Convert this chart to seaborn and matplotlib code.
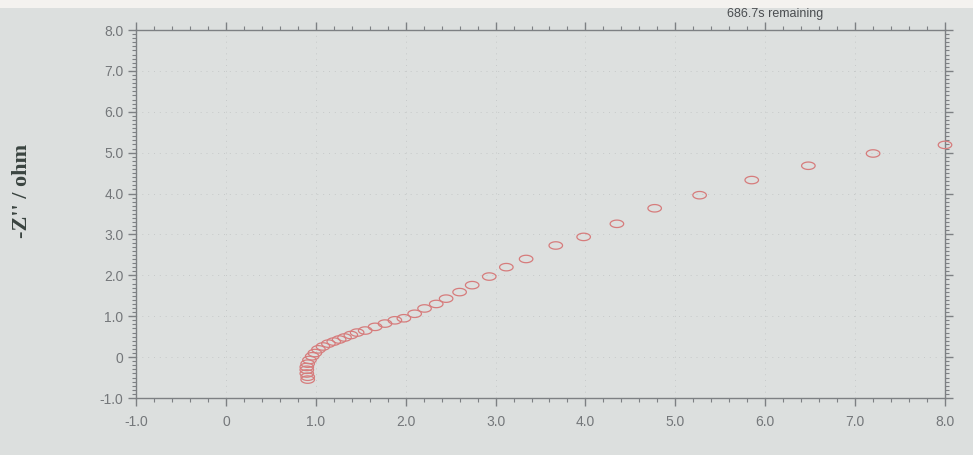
import numpy as np
import pandas as pd
import matplotlib
matplotlib.use("Agg")
import matplotlib.pyplot as plt
from matplotlib.path import Path
from matplotlib.ticker import MultipleLocator, FixedLocator
import seaborn as sns

# Nyquist data: Z' (ohm) and -Z'' (ohm)
z_real = [8.00, 7.20, 6.48, 5.85, 5.27, 4.77, 4.35, 3.98, 3.67, 3.34, 3.12, 2.93,
          2.74, 2.60, 2.45, 2.34, 2.21, 2.10, 1.98, 1.88, 1.77, 1.66, 1.55, 1.46,
          1.39, 1.32, 1.26, 1.20, 1.14, 1.08, 1.03, 0.99, 0.96, 0.93, 0.91, 0.90,
          0.90, 0.90, 0.91, 0.91]
z_imag = [5.19, 4.98, 4.68, 4.33, 3.96, 3.64, 3.26, 2.94, 2.73, 2.40, 2.20, 1.97,
          1.76, 1.59, 1.43, 1.30, 1.19, 1.06, 0.95, 0.90, 0.82, 0.74, 0.65, 0.60,
          0.54, 0.48, 0.43, 0.38, 0.33, 0.26, 0.19, 0.10, 0.02, -0.07, -0.16, -0.24,
          -0.31, -0.40, -0.48, -0.55]

x_ticks = [-1.0, 0.0, 1.0, 2.0, 3.0, 4.0, 5.0, 6.0, 7.0, 8.0]
x_tick_labels = ["-1.0", "0", "1.0", "2.0", "3.0", "4.0", "5.0", "6.0", "7.0", "8.0"]
y_ticks = [-1.0, 0.0, 1.0, 2.0, 3.0, 4.0, 5.0, 6.0, 7.0, 8.0]
y_tick_labels = ["-1.0", "0", "1.0", "2.0", "3.0", "4.0", "5.0", "6.0", "7.0", "8.0"]
y_label = "-Z'' / ohm"
status_text = "686.7s remaining"

df = pd.DataFrame({"zr": z_real, "zi": z_imag})

sns.set_theme(style="white")
plt.rcParams['font.family'] = ['Liberation Sans Narrow', 'Liberation Sans', 'DejaVu Sans']

bg = "#dcdfde"
fig = plt.figure(figsize=(9.73, 4.55), dpi=100, facecolor=bg)
ax = fig.add_axes([136 / 973, 1 - 398 / 455, (945 - 136) / 973, (398 - 30) / 455])
ax.set_facecolor("#dde0df")

# white strip at top of the photo
fig.patches.append(plt.Rectangle((0, 1 - 8 / 455), 1, 8 / 455, transform=fig.transFigure,
                                 facecolor="#f4f2ef", edgecolor="none", zorder=0))

# elliptical open marker
t = np.linspace(0, 2 * np.pi, 40)
ell = Path(np.column_stack([np.cos(t), 0.55 * np.sin(t)]), closed=True)

sns.scatterplot(data=df, x="zr", y="zi", ax=ax, marker=ell, s=95,
                facecolor="none", edgecolor="#d67c7c", linewidth=0.9, legend=False,
                clip_on=False, zorder=3)

ax.set_xlim(-1.0, 8.0)
ax.set_ylim(-1.0, 8.0)
ax.xaxis.set_major_locator(FixedLocator(x_ticks))
ax.yaxis.set_major_locator(FixedLocator(y_ticks))
ax.set_xticklabels(x_tick_labels)
ax.set_yticklabels(y_tick_labels)
ax.xaxis.set_minor_locator(MultipleLocator(0.2))
ax.yaxis.set_minor_locator(MultipleLocator(0.1))

for s in ax.spines.values():
    s.set_color("#7d8083")
    s.set_linewidth(1.0)

ax.tick_params(axis="both", which="both", direction="out", color="#7d8083",
               top=True, right=True, bottom=True, left=True,
               labeltop=False, labelright=False)
ax.tick_params(which="major", length=6, width=1.0)
ax.tick_params(which="minor", length=3, width=0.8)
ax.tick_params(axis="x", which="major", labelsize=10, labelcolor="#74777a", pad=6)
ax.tick_params(axis="y", which="major", labelsize=10, labelcolor="#74777a", pad=3)

# very faint dotted grid
ax.grid(True, which="major", linestyle=(0, (1, 5)), color="#c6c9c9", linewidth=0.7)

ax.set_xlabel("")
ax.set_ylabel(y_label, family=["Liberation Serif", "DejaVu Serif"], fontweight="bold",
              fontsize=16, color="#3a4440")
ax.yaxis.set_label_coords(-0.128, 0.5625)

fig.text(775 / 973, 1 - 14 / 455, status_text, ha="center", va="center",
         fontsize=9, color="#4a4d50")

fig.savefig("out.png", dpi=100, facecolor=fig.get_facecolor())
